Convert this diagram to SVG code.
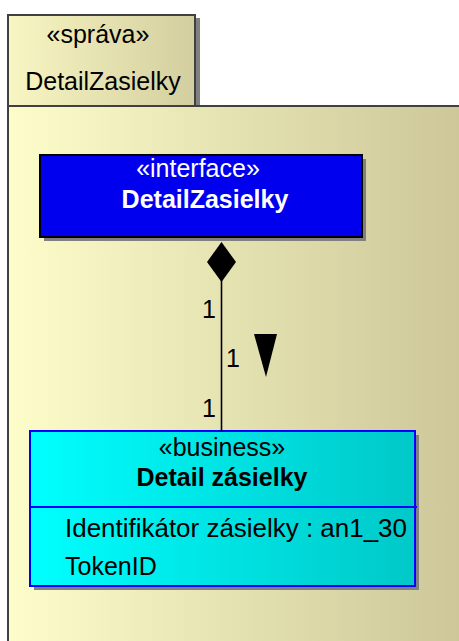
<svg xmlns="http://www.w3.org/2000/svg" width="459" height="641" viewBox="0 0 459 641">
<defs>
<linearGradient id="pkg" x1="0" y1="0" x2="1" y2="0">
<stop offset="0" stop-color="#fdfdca"/>
<stop offset="1" stop-color="#ccc698"/>
</linearGradient>
<linearGradient id="tab" x1="0" y1="0" x2="1" y2="0">
<stop offset="0" stop-color="#f8f6c3"/>
<stop offset="1" stop-color="#d3ce9f"/>
</linearGradient>
<linearGradient id="cyan" x1="0" y1="0" x2="1" y2="0">
<stop offset="0" stop-color="#00ffff"/>
<stop offset="1" stop-color="#00c8c8"/>
</linearGradient>
<style>
text{font-family:"Liberation Sans",Arial,sans-serif;font-size:25px}
.b{font-weight:bold}
.c{text-anchor:middle}
.w{fill:#ffffff}
.k{fill:#000000}
.shadow{fill:#808080}
</style>
</defs>
<rect x="0" y="0" width="459" height="641" fill="#ffffff"/>
<g id="package">
<rect class="shadow" x="11" y="18" width="189" height="92"/>
<rect x="8" y="106" width="460" height="545" fill="url(#pkg)" stroke="#404040" stroke-width="2"/>
<rect x="8" y="15" width="187" height="91" fill="url(#tab)" stroke="#404040" stroke-width="2"/>
<text class="c k" x="98" y="43">«správa»</text>
<text class="c k" x="103" y="90">DetailZasielky</text>
</g>
<g id="interface">
<rect class="shadow" x="44" y="159" width="322" height="82"/>
<rect x="40" y="155" width="322" height="82" fill="#0000ee" stroke="#000000" stroke-width="2"/>
<text class="c w" x="198" y="177">«interface»</text>
<text class="c w b" x="205" y="208">DetailZasielky</text>
</g>
<g id="business">
<rect class="shadow" x="34" y="435" width="385" height="155"/>
<rect x="30" y="431" width="385" height="155" fill="url(#cyan)" stroke="#0000ff" stroke-width="2"/>
<line x1="30" y1="507" x2="417" y2="507" stroke="#0000ff" stroke-width="2"/>
<text class="c k" x="222" y="456">«business»</text>
<text class="c k b" x="222" y="486">Detail zásielky</text>
<text class="k" x="65" y="537" textLength="342" lengthAdjust="spacingAndGlyphs">Identifikátor zásielky : an1_30</text>
<text class="k" x="65" y="575">TokenID</text>
</g>
<g id="connectors">
<line x1="221.5" y1="270" x2="221.5" y2="431" stroke="#000000" stroke-width="1.6"/>
<polygon points="221.5,242 236,262 221.5,282 207,262" fill="#000000"/>
<polygon points="254,334 277,334 266,377" fill="#000000"/>
<text class="k" x="202" y="318">1</text>
<text class="k" x="226" y="367">1</text>
<text class="k" x="202" y="417">1</text>
</g>
</svg>
